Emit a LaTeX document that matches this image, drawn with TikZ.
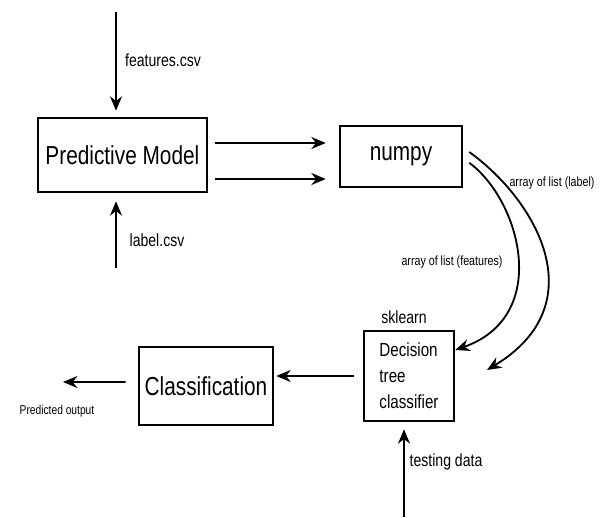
\documentclass[tikz,border=0pt]{standalone}
\usepackage{fontspec}
\setmainfont[FakeStretch=0.8]{Liberation Sans}
\usetikzlibrary{arrows.meta, positioning, calc}

\begin{document}
\begin{tikzpicture}[
  box/.style={rectangle, draw, line width=1.8pt, font=\fontsize{18.5}{22}\selectfont},
  flow/.style={-{Stealth[length=0.36cm, width=0.3cm]}, line width=1.3pt},
  lbl/.style={font=\fontsize{12.5}{15}\selectfont, inner sep=0pt},
  tiny/.style={font=\fontsize{9.5}{11}\selectfont, inner sep=0pt}
]
\useasboundingbox (0,0) rectangle (15.15,-12.925);

% Boxes
\node[box, minimum width=4.225cm, minimum height=1.85cm] (pm) at (3.06,-3.875) {Predictive Model};
\node[box, minimum width=3.05cm, minimum height=1.525cm] (np) at (10.025,-3.91) {numpy};
\node[box, minimum width=2.25cm, minimum height=2.25cm, align=left,
      font=\fontsize{13.5}{18.5}\selectfont] (dt) at (10.225,-9.4) {Decision\\tree\\classifier};
\node[box, minimum width=3.35cm, minimum height=1.95cm] (cls) at (5.15,-9.65) {Classification};

% Free ends
\coordinate (fin) at (2.9,-0.3);
\coordinate (lin) at (2.9,-6.7);
\coordinate (tin) at (10.1,-12.925);
\coordinate (out) at (1.575,-9.55);
\coordinate (lend) at (12.175,-9.25);

% Arrows
\draw[flow, shorten >=0.15cm] (fin) -- (fin |- pm.north);
\draw[flow, shorten >=0.2cm] (lin) -- (lin |- pm.south);
\draw[flow, shorten <=0.175cm, shorten >=0.325cm] ([yshift=0.3cm]pm.east) -- ([yshift=0.3cm]pm.east -| np.west);
\draw[flow, shorten <=0.175cm, shorten >=0.325cm] ([yshift=-0.6cm]pm.east) -- ([yshift=-0.6cm]pm.east -| np.west);
\draw[flow] ([xshift=0.15cm, yshift=0.11cm]np.east) .. controls (13.4,-5.0) and (14.9,-7.6) .. (lend);
\draw[flow] ([xshift=0.15cm, yshift=-0.16cm]np.east) .. controls (13.0,-5.0) and (13.8,-7.9) .. ([yshift=0.65cm]dt.east);
\draw[flow, shorten <=0.225cm, shorten >=0.05cm] (dt.west) -- (dt.west -| cls.east);
\draw[flow, shorten <=0.3cm] ([yshift=0.1cm]cls.west) -- (out);
\draw[flow, shorten >=0.175cm] (tin) -- (tin |- dt.south);

% Labels
\node[lbl] (flab) at (4.075,-1.5) {features.csv};
\node[lbl] (llab) at (3.925,-6.0) {label.csv};
\node[lbl] (tlab) at (11.15,-11.55) {testing data};
\node[lbl] (sk) at (10.1,-7.925) {sklearn};
\node[tiny] (alab) at (13.8,-4.575) {array of list (label)};
\node[tiny] (aflab) at (11.3,-6.55) {array of list (features)};
\node[tiny, font=\fontsize{9.1}{11}\selectfont] (plab) at (1.425,-10.275) {Predicted output};

\end{tikzpicture}
\end{document}
